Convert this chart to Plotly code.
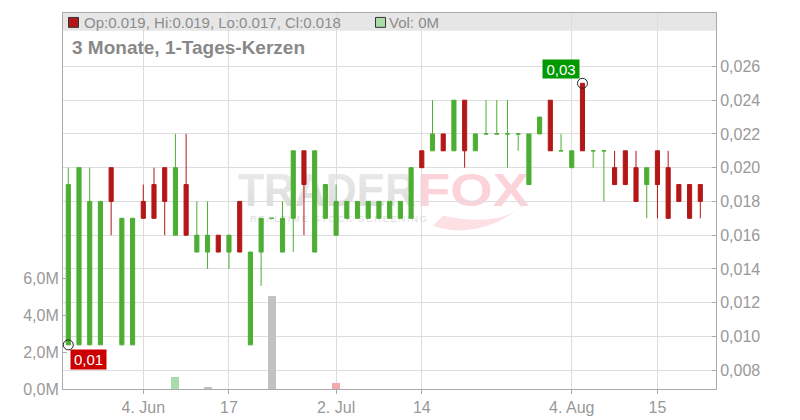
import base64
import plotly.graph_objects as go

# ---------------- data ----------------
dates = [
    "2025-05-23", "2025-05-26", "2025-05-27", "2025-05-28", "2025-05-30", "2025-06-02", "2025-06-03", "2025-06-04",
    "2025-06-05", "2025-06-06", "2025-06-10", "2025-06-11", "2025-06-12", "2025-06-13", "2025-06-16", "2025-06-17",
    "2025-06-18", "2025-06-20", "2025-06-23", "2025-06-24", "2025-06-25", "2025-06-26", "2025-06-27", "2025-06-30",
    "2025-07-01", "2025-07-02",
    "2025-07-03", "2025-07-04", "2025-07-07", "2025-07-08", "2025-07-09", "2025-07-10", "2025-07-11", "2025-07-14",
    "2025-07-15", "2025-07-16", "2025-07-17", "2025-07-18", "2025-07-21", "2025-07-22", "2025-07-23", "2025-07-24",
    "2025-07-28", "2025-07-29", "2025-07-30", "2025-07-31", "2025-08-01", "2025-08-04",
    "2025-08-05", "2025-08-06", "2025-08-07", "2025-08-08", "2025-08-11", "2025-08-12", "2025-08-14", "2025-08-15",
    "2025-08-18", "2025-08-19", "2025-08-20", "2025-08-21",
]

opens = [
    0.0095, 0.0095, 0.0095, 0.0095, 0.020, 0.0095, 0.0095, 0.018, 0.019, 0.020,
    0.016, 0.019, 0.015, 0.015, 0.016, 0.015, 0.018, 0.0095, 0.015, 0.017,
    0.015, 0.017, 0.021, 0.015, 0.017, 0.016, 0.017, 0.017, 0.017, 0.017,
    0.017, 0.017, 0.017, 0.021, 0.021, 0.022, 0.021, 0.024, 0.021, 0.022,
    0.022, 0.022, 0.022, 0.019, 0.022, 0.024, 0.021, 0.020, 0.025, 0.021,
    0.021, 0.020, 0.021, 0.020, 0.019, 0.021, 0.020, 0.019, 0.019, 0.019,
]
highs = [
    0.020, 0.020, 0.020, 0.018, 0.020, 0.017, 0.017, 0.019, 0.020, 0.020,
    0.022, 0.022, 0.018, 0.018, 0.016, 0.016, 0.018, 0.015, 0.017, 0.017,
    0.018, 0.021, 0.021, 0.021, 0.019, 0.019, 0.018, 0.018, 0.018, 0.018,
    0.018, 0.018, 0.020, 0.021, 0.024, 0.022, 0.024, 0.024, 0.022, 0.024,
    0.024, 0.024, 0.022, 0.022, 0.023, 0.024, 0.022, 0.021, 0.025, 0.021,
    0.021, 0.021, 0.021, 0.021, 0.020, 0.021, 0.021, 0.019, 0.019, 0.019,
]
lows = [
    0.0095, 0.0095, 0.0095, 0.0095, 0.016, 0.0095, 0.0095, 0.017, 0.017, 0.016,
    0.016, 0.016, 0.015, 0.014, 0.015, 0.014, 0.015, 0.0095, 0.013, 0.017,
    0.015, 0.015, 0.016, 0.015, 0.017, 0.016, 0.017, 0.017, 0.017, 0.017,
    0.017, 0.017, 0.017, 0.020, 0.021, 0.021, 0.021, 0.020, 0.021, 0.022,
    0.022, 0.020, 0.021, 0.019, 0.022, 0.021, 0.021, 0.020, 0.021, 0.020,
    0.018, 0.019, 0.019, 0.018, 0.017, 0.017, 0.017, 0.018, 0.017, 0.017,
]
closes = [
    0.019, 0.020, 0.018, 0.018, 0.018, 0.017, 0.017, 0.017, 0.017, 0.018,
    0.020, 0.016, 0.016, 0.016, 0.015, 0.016, 0.015, 0.015, 0.017, 0.017,
    0.017, 0.021, 0.019, 0.021, 0.019, 0.018, 0.018, 0.018, 0.018, 0.018,
    0.018, 0.018, 0.020, 0.020, 0.022, 0.021, 0.024, 0.021, 0.022, 0.022,
    0.022, 0.022, 0.022, 0.022, 0.023, 0.021, 0.021, 0.021, 0.021, 0.021,
    0.021, 0.019, 0.019, 0.018, 0.020, 0.019, 0.017, 0.018, 0.017, 0.018,
]
volumes = [
    0, 0, 0, 0, 0, 0, 0, 0, 0, 0,
    660000, 0, 0, 90000, 0, 0, 0, 0, 0, 5060000,
    0, 0, 0, 0, 0, 300000, 0, 0, 0, 0,
    0, 0, 0, 0, 0, 0, 0, 0, 0, 0,
    0, 0, 0, 0, 0, 0, 0, 0, 0, 0,
    0, 0, 0, 0, 0, 0, 0, 0, 0, 0,
]

tick_dates = ["2025-06-04", "2025-06-17", "2025-07-02", "2025-07-14", "2025-08-04", "2025-08-15"]
tick_labels = ["4. Jun", "17", "2. Jul", "14", "4. Aug", "15"]
price_ticks = [0.008, 0.010, 0.012, 0.014, 0.016, 0.018, 0.020, 0.022, 0.024, 0.026]
vol_ticks = [0, 2000000, 4000000, 6000000]
title_text = "3 Monate, 1-Tages-Kerzen"

# ---------------- style ----------------
GREEN = "#4cae33"
RED = "#b41717"
VOL_UP = "#a9dca9"
VOL_DOWN = "#f2a9b1"
VOL_FLAT = "#c2c2c2"
GRID = "#dddddd"
AXIS = "#aaaaaa"
TXT = "#999999"
FONT = "Liberation Sans, Arial, sans-serif"

# the page body has an 8px margin: compensate so the plot lands where the reference has it
OFF = 8
W, H = 800 - OFF, 420 - OFF
ML, MR, MT, MB = 63 - OFF, 84, 12 - OFF, 28
PW, PH = W - ML - MR, H - MT - MB

n = len(dates)
up_idx = [i for i in range(n) if closes[i] >= opens[i]]
dn_idx = [i for i in range(n) if closes[i] < opens[i]]

vol_colors = []
for i in range(n):
    if i == 0 or closes[i] == closes[i - 1]:
        vol_colors.append(VOL_FLAT)
    elif closes[i] > closes[i - 1]:
        vol_colors.append(VOL_UP)
    else:
        vol_colors.append(VOL_DOWN)

fig = go.Figure()

fig.add_trace(go.Bar(
    x=dates, y=volumes, marker=dict(color=vol_colors, line=dict(width=0)),
    width=0.75, yaxis="y", hoverinfo="skip", showlegend=False,
))


def candles(idx, color):
    return go.Candlestick(
        x=[dates[i] for i in idx],
        open=[opens[i] for i in idx],
        high=[highs[i] for i in idx],
        low=[lows[i] for i in idx],
        close=[closes[i] for i in idx],
        increasing=dict(line=dict(color=color, width=1), fillcolor=color),
        decreasing=dict(line=dict(color=color, width=1), fillcolor=color),
        yaxis="y2", showlegend=False, hoverinfo="skip",
    )


fig.add_trace(candles(up_idx, GREEN))
fig.add_trace(candles(dn_idx, RED))

imin = min(range(n), key=lambda i: lows[i])
imax = max(range(n), key=lambda i: highs[i])
fig.add_trace(go.Scatter(
    x=[dates[imin], dates[imax]], y=[lows[imin], highs[imax]], mode="markers",
    marker=dict(symbol="circle-open", size=10, color="#222222", line=dict(width=1)),
    yaxis="y2", hoverinfo="skip", showlegend=False,
))


def fmt2(v):
    return f"{v:.2f}".replace(".", ",")


annotations = [
    dict(x=imin, y=lows[imin], xref="x", yref="y2", text=fmt2(lows[imin]), showarrow=False,
         xanchor="left", yanchor="top", xshift=2, yshift=-4, bgcolor="#cc0000",
         font=dict(family=FONT, size=15, color="white"), width=35, height=19, borderpad=0),
    dict(x=imax, y=highs[imax], xref="x", yref="y2", text=fmt2(highs[imax]), showarrow=False,
         xanchor="right", yanchor="bottom", xshift=-2, yshift=4, bgcolor="#009900",
         font=dict(family=FONT, size=15, color="white"), width=36, height=18, borderpad=0),
]

# header info line (last candle)
hdr = f"Op:{opens[-1]:.3f}, Hi:{highs[-1]:.3f}, Lo:{lows[-1]:.3f}, Cl:{closes[-1]:.3f}"
vol_txt = f"Vol: {volumes[-1] / 1e6:.0f}M"


# helpers in reference-page pixels
def px2x(px):
    return (px - OFF - ML) / PW


def px2y(py):
    return (H - MB - (py - OFF)) / PH


annotations += [
    dict(xref="paper", yref="paper", x=px2x(82), y=px2y(21.5), text=hdr, showarrow=False,
         xanchor="left", yanchor="middle", font=dict(family=FONT, size=15, color="#8c8c8c")),
    dict(xref="paper", yref="paper", x=px2x(387), y=px2y(21.5), text=vol_txt, showarrow=False,
         xanchor="left", yanchor="middle", font=dict(family=FONT, size=15, color="#8c8c8c")),
    dict(xref="paper", yref="paper", x=px2x(70), y=px2y(47), text="<b>" + title_text + "</b>", showarrow=False,
         xanchor="left", yanchor="middle", font=dict(family=FONT, size=19, color="#888888")),
]

shapes = [
    dict(type="rect", xref="paper", yref="paper", x0=0, x1=1, y0=px2y(30), y1=1,
         fillcolor="#e6e6e6", line=dict(width=0), layer="below"),
    dict(type="rect", xref="paper", yref="paper", x0=px2x(68.5), x1=px2x(78.5), y0=px2y(26.5), y1=px2y(16.5),
         fillcolor=RED, line=dict(color="#333333", width=1)),
    dict(type="rect", xref="paper", yref="paper", x0=px2x(375.5), x1=px2x(385.5), y0=px2y(26.5), y1=px2y(16.5),
         fillcolor=VOL_UP, line=dict(color="#333333", width=1)),
]

# watermark (decoration) as an svg image below the traces
wm = f'''<svg xmlns="http://www.w3.org/2000/svg" width="{PW}" height="{PH}" viewBox="0 0 {PW} {PH}">
<defs><linearGradient id="g" x1="0" y1="0" x2="0" y2="1">
<stop offset="0" stop-color="#ececec"/><stop offset="1" stop-color="#dadada"/></linearGradient></defs>
<path d="M 370 215 Q 420 232 468 188 Q 442 218 380 205 Z" fill="#fde0e4"/>
<text x="175" y="195" font-family="Liberation Sans, Arial, sans-serif" font-weight="bold" font-size="46" fill="url(#g)" textLength="178" lengthAdjust="spacingAndGlyphs">TRADER</text>
<text x="354" y="195" font-family="Liberation Sans, Arial, sans-serif" font-weight="bold" font-size="46" fill="#fbd3d9" textLength="112" lengthAdjust="spacingAndGlyphs">FOX</text>
<text x="187" y="211" font-family="Liberation Sans, Arial, sans-serif" font-size="9.5" fill="#dcdcdc" textLength="177" lengthAdjust="spacing">REALTIME STOCK SCREENING</text>
</svg>'''
wm_src = "data:image/svg+xml;base64," + base64.b64encode(wm.encode("utf-8")).decode("ascii")

fig.update_layout(
    width=W, height=H,
    margin=dict(l=ML, r=MR, t=MT, b=MB, pad=0),
    paper_bgcolor="white", plot_bgcolor="white",
    separators=",.",
    font=dict(family=FONT, size=16, color=TXT),
    showlegend=False,
    boxgap=0.45,
    bargap=0,
    annotations=annotations,
    shapes=shapes,
    images=[dict(source=wm_src, xref="paper", yref="paper", x=0, y=1, sizex=1, sizey=1,
                 xanchor="left", yanchor="top", sizing="stretch", layer="below")],
    xaxis=dict(
        type="category", categoryorder="array", categoryarray=dates,
        range=[-0.495, n + 0.466],
        tickmode="array", tickvals=tick_dates, ticktext=tick_labels,
        showgrid=True, gridcolor=GRID, gridwidth=1,
        ticks="outside", ticklen=4, tickcolor=AXIS,
        showline=True, linecolor=AXIS, linewidth=1, mirror=True,
        rangeslider=dict(visible=False), fixedrange=True,
        tickfont=dict(family=FONT, size=16, color=TXT),
    ),
    yaxis=dict(
        side="left", range=[0, 20360000],
        tickmode="array", tickvals=vol_ticks,
        ticktext=[f"{v / 1e6:.1f}M".replace(".", ",") for v in vol_ticks],
        showgrid=False, zeroline=False,
        ticks="inside", ticklen=4, tickcolor=AXIS,
        showline=True, linecolor=AXIS, linewidth=1,
        tickfont=dict(family=FONT, size=16, color=TXT), fixedrange=True,
    ),
    yaxis2=dict(
        overlaying="y", side="right", range=[0.006885, 0.029166],
        tickmode="array", tickvals=price_ticks, tickformat=".3f",
        showgrid=True, gridcolor=GRID, gridwidth=1, zeroline=False,
        ticks="inside", ticklen=4, tickcolor=AXIS,
        showline=True, linecolor=AXIS, linewidth=1,
        tickfont=dict(family=FONT, size=16, color=TXT), fixedrange=True,
    ),
)

fig.write_html("out.html")
